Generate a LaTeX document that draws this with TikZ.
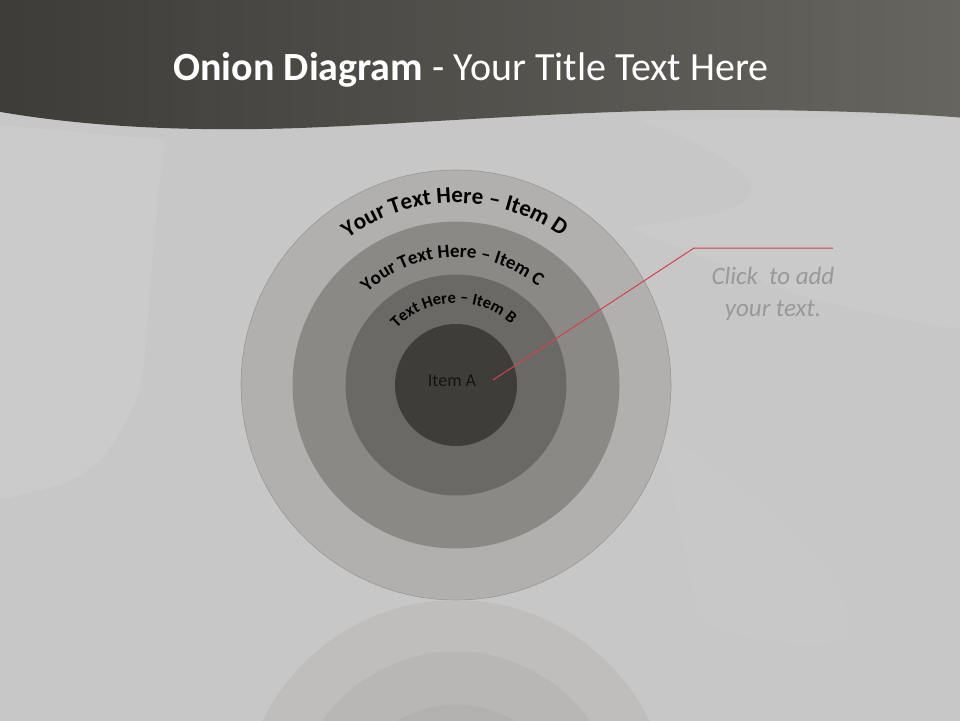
\documentclass[tikz,border=0pt]{standalone}
\usepackage{fontspec}
\setmainfont{Carlito}
\usetikzlibrary{decorations.text}
\definecolor{bgc}{HTML}{C8C7C7}
\definecolor{bglight}{HTML}{CECDCD}
\definecolor{hdA}{HTML}{3E3C38}
\definecolor{hdB}{HTML}{676560}
\definecolor{ringD}{HTML}{B1B0AE}
\definecolor{ringC}{HTML}{8A8985}
\definecolor{ringB}{HTML}{6A6965}
\definecolor{ringA}{HTML}{3F3D3A}
\definecolor{reflD}{HTML}{BFBEBD}
\definecolor{reflC}{HTML}{B8B7B6}
\definecolor{reflB}{HTML}{B2B1B0}
\definecolor{leader}{HTML}{D8404A}
\definecolor{notegray}{HTML}{9A9999}
\definecolor{itemAtext}{HTML}{141414}
\tikzset{
  ring/.style={circle, inner sep=0pt, outer sep=0pt, minimum size=#1},
  refl/.style={circle, inner sep=0pt, outer sep=0pt, minimum size=#1},
  arctext/.style={decorate, decoration={text along path, text align=center, text={#1}}},
}
\begin{document}
\begin{tikzpicture}[x=1pt,y=-1pt]
\useasboundingbox (0,0) rectangle (960,720);
\fill[bgc] (-5,-5) rectangle (965,730);
% faint background texture
\fill[bglight, opacity=0.8] (0,125) -- (165,140) .. controls (150,250) and (150,330) .. (140,390) .. controls (120,440) and (100,470) .. (60,485) -- (0,500) -- cycle;
\fill[bglight, opacity=0.5] (640,120) -- (965,115) -- (965,330) .. controls (900,320) and (800,300) .. (760,280) -- (630,228) .. controls (700,215) and (760,215) .. (750,180) .. controls (720,150) and (680,135) .. (640,120) -- cycle;
\fill[bglight, opacity=0.3] (660,430) .. controls (760,500) and (850,560) .. (850,640) .. controls (800,650) and (740,640) .. (700,620) -- cycle;
% header band
\shade[left color=hdA, right color=hdB] (-5,-5) -- (965,-5) -- (965,118) .. controls (920,114) and (850,111) .. (760,110) .. controls (600,108) and (450,122) .. (300,128) .. controls (180,132) and (80,126) .. (-5,111) -- cycle;
\node[anchor=base, text=white, font=\fontsize{40}{40}\selectfont] (title) at (471,80) {\textbf{Onion Diagram} - Your Title Text Here};
% reflection
\begin{scope}
\clip (-5,601) rectangle (965,730);
\node[refl=430, fill=reflD] (rD) at (456,815) {};
\node[refl=327, fill=reflC] (rC) at (456,815) {};
\node[refl=221, fill=reflB] (rB) at (456,815) {};
\end{scope}
% onion rings
\node[ring=430, fill=ringD, draw=black!40, line width=0.6pt] (D) at (456,385) {};
\node[ring=327, fill=ringC] (C) at (456,385) {};
\node[ring=221, fill=ringB] (B) at (456,385) {};
\node[ring=122, fill=ringA] (A) at (456,385) {};
\node[font=\fontsize{18}{18}\selectfont, text=itemAtext] (itemA) at (452,381) {Item A};
% curved labels
\path[arctext={|\bfseries\fontsize{23}{23}\selectfont|Your Text Here – Item D}] (D.center) ++(179.5:182) arc[start angle=179.5, end angle=359.5, radius=182];
\path[arctext={|\bfseries\fontsize{19}{19}\selectfont|Your Text Here – Item C}] (D.center) ++(178:128) arc[start angle=178, end angle=358, radius=128];
\path[arctext={|\bfseries\fontsize{16.5}{16.5}\selectfont|Text Here – Item B}] (D.center) ++(178:82) arc[start angle=178, end angle=358, radius=82];
% leader line and note
\coordinate (lineStart) at (493,380);
\coordinate (elbow) at (694,248);
\coordinate (lineEnd) at (833,248);
\draw[leader, line width=1pt] (lineStart) -- (elbow) -- (lineEnd);
\node[align=center, text=notegray, font=\itshape\fontsize{25}{32}\selectfont] (note) at (773,294) {Click\ \ to add\\your text.};
\end{tikzpicture}
\end{document}
